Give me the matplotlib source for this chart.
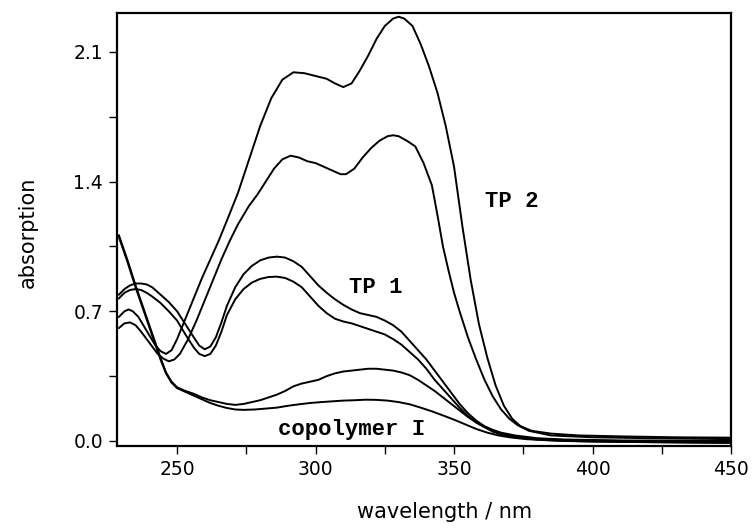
import matplotlib
matplotlib.use("Agg")
import matplotlib.pyplot as plt
from matplotlib.ticker import MultipleLocator

# ---- data (wavelength nm, absorption) ----
tp2a_wl = [229, 231, 232.5, 234, 236, 238, 240, 242, 244, 246, 248, 250, 253, 256, 259, 262, 265, 268,
           272, 276, 280, 284, 288, 292, 296, 300, 304, 307, 310, 313, 316, 319, 322, 325, 328, 330,
           332, 335, 338, 341, 344, 347, 350, 353, 356, 359, 362, 365, 368, 371, 374, 378, 385, 395,
           410, 430, 450]
tp2a_ab = [0.67, 0.70, 0.71, 0.70, 0.67, 0.62, 0.57, 0.52, 0.485, 0.47, 0.49, 0.55, 0.66, 0.77, 0.88,
           0.98, 1.08, 1.19, 1.34, 1.52, 1.70, 1.85, 1.95, 1.99, 1.985, 1.97, 1.955, 1.93, 1.91, 1.93,
           2.00, 2.08, 2.17, 2.24, 2.28, 2.29, 2.28, 2.24, 2.14, 2.02, 1.88, 1.70, 1.48, 1.16, 0.87,
           0.63, 0.45, 0.30, 0.19, 0.12, 0.08, 0.055, 0.04, 0.03, 0.025, 0.02, 0.018]

tp2b_wl = [229, 231, 233, 235, 237, 239, 241, 243, 245, 247, 249, 251, 254, 257, 260, 263, 266, 269,
           272, 276, 279, 282, 285, 288, 291, 294, 297, 300, 303, 306, 309, 311, 314, 317, 320, 323,
           326, 328, 330, 333, 336, 339, 342, 344, 346, 348, 350, 352, 355, 358, 361, 364, 367, 370,
           373, 377, 385, 400, 420, 450]
tp2b_ab = [0.61, 0.635, 0.64, 0.625, 0.59, 0.55, 0.51, 0.47, 0.445, 0.43, 0.44, 0.47, 0.55, 0.65,
           0.76, 0.87, 0.98, 1.08, 1.17, 1.27, 1.33, 1.40, 1.47, 1.52, 1.54, 1.53, 1.51, 1.50, 1.48,
           1.46, 1.44, 1.44, 1.47, 1.53, 1.58, 1.62, 1.645, 1.65, 1.645, 1.62, 1.59, 1.50, 1.38, 1.22,
           1.05, 0.92, 0.80, 0.70, 0.56, 0.44, 0.33, 0.24, 0.17, 0.12, 0.085, 0.055, 0.03, 0.02, 0.015,
           0.01]

tp1a_wl = [229, 231, 233, 235, 237, 239, 241, 244, 247, 250, 253, 256, 258, 260, 262, 264, 266, 268,
           271, 274, 277, 280, 283, 286, 289, 292, 295, 298, 301, 304, 307, 310, 313, 316, 319, 322,
           325, 328, 331, 334, 337, 340, 343, 346, 349, 352, 355, 358, 361, 364, 367, 372, 380, 390,
           410, 450]
tp1a_ab = [0.79, 0.82, 0.84, 0.85, 0.85, 0.845, 0.83, 0.79, 0.75, 0.70, 0.63, 0.56, 0.515, 0.495, 0.51,
           0.56, 0.64, 0.73, 0.83, 0.90, 0.945, 0.975, 0.99, 0.995, 0.99, 0.97, 0.94, 0.89, 0.84, 0.80,
           0.765, 0.735, 0.71, 0.69, 0.68, 0.67, 0.65, 0.625, 0.59, 0.54, 0.49, 0.44, 0.38, 0.32, 0.26,
           0.20, 0.15, 0.11, 0.08, 0.06, 0.045, 0.03, 0.015, 0.008, 0.003, 0.0]

tp1b_wl = [229, 231, 233, 235, 237, 239, 241, 244, 247, 250, 253, 256, 258, 260, 262, 264, 266, 268,
           271, 274, 277, 280, 283, 286, 289, 292, 295, 298, 301, 304, 307, 310, 313, 316, 319, 322,
           325, 328, 331, 334, 337, 340, 343, 346, 349, 352, 355, 358, 361, 364, 367, 372, 380, 390,
           410, 450]
tp1b_ab = [0.77, 0.80, 0.815, 0.82, 0.815, 0.80, 0.78, 0.745, 0.70, 0.65, 0.575, 0.505, 0.47, 0.458,
           0.47, 0.515, 0.59, 0.68, 0.765, 0.82, 0.855, 0.875, 0.885, 0.887, 0.88, 0.86, 0.83, 0.78,
           0.73, 0.69, 0.66, 0.645, 0.635, 0.62, 0.605, 0.59, 0.575, 0.55, 0.52, 0.48, 0.44, 0.39,
           0.33, 0.28, 0.23, 0.18, 0.135, 0.10, 0.075, 0.055, 0.04, 0.025, 0.012, 0.005, 0.0, -0.005]

copa_wl = [229, 232, 235, 238, 241, 244, 246, 248, 250, 253, 256, 259, 262, 265, 268, 271, 274, 277,
           280, 283, 286, 289, 292, 295, 298, 301, 304, 307, 310, 313, 316, 319, 322, 325, 328, 331,
           334, 337, 340, 343, 346, 349, 352, 355, 358, 361, 364, 367, 372, 380, 390, 410, 450]
copa_ab = [1.11, 0.98, 0.84, 0.71, 0.58, 0.45, 0.37, 0.32, 0.29, 0.27, 0.255, 0.235, 0.22, 0.21, 0.20,
           0.195, 0.20, 0.21, 0.22, 0.235, 0.25, 0.27, 0.295, 0.31, 0.32, 0.33, 0.35, 0.365, 0.375,
           0.38, 0.385, 0.39, 0.39, 0.385, 0.38, 0.37, 0.355, 0.33, 0.30, 0.27, 0.235, 0.20, 0.165,
           0.13, 0.10, 0.075, 0.05, 0.035, 0.02, 0.008, 0.0, -0.005, -0.01]

copb_wl = [229, 232, 235, 238, 241, 244, 246, 248, 250, 253, 256, 259, 262, 265, 268, 271, 274, 278,
           282, 286, 290, 294, 298, 302, 306, 310, 314, 318, 322, 326, 330, 334, 338, 342, 346, 350,
           354, 358, 362, 366, 370, 376, 385, 400, 450]
copb_ab = [1.10, 0.97, 0.83, 0.70, 0.57, 0.44, 0.365, 0.315, 0.285, 0.265, 0.245, 0.225, 0.205, 0.19,
           0.178, 0.17, 0.168, 0.17, 0.175, 0.18, 0.19, 0.198, 0.205, 0.21, 0.214, 0.218, 0.22, 0.223,
           0.222, 0.218, 0.21, 0.198, 0.18, 0.16, 0.138, 0.115, 0.09, 0.065, 0.045, 0.03, 0.02, 0.01,
           0.003, -0.003, -0.01]

series = [(tp2a_wl, tp2a_ab), (tp2b_wl, tp2b_ab), (tp1a_wl, tp1a_ab), (tp1b_wl, tp1b_ab),
          (copa_wl, copa_ab), (copb_wl, copb_ab)]

labels = ["TP 2", "TP 1", "copolymer I"]
label_pos = [(361, 1.29), (312, 0.83), (286.5, 0.063)]

x_ticks = [250, 300, 350, 400, 450]
y_ticks = [0.0, 0.7, 1.4, 2.1]

# ---- figure ----
fig = plt.figure(figsize=(7.54, 5.29), dpi=100)
ax = fig.add_axes([117 / 754, 1 - 446 / 529, (731 - 117) / 754, (446 - 13) / 529])

for wl, ab in series:
    ax.plot(wl, ab, color="black", lw=1.4, solid_joinstyle="round")

for txt, (x, y) in zip(labels, label_pos):
    ax.text(x, y, txt, family="Liberation Mono", fontweight="bold", fontsize=16,
            ha="left", va="center")

ax.set_xlim(228.3, 450)
ax.set_ylim(-0.027, 2.31)
ax.set_xticks(x_ticks)
ax.set_yticks(y_ticks)
ax.set_yticklabels([f"{v:.1f}" for v in y_ticks])
ax.xaxis.set_minor_locator(MultipleLocator(25))
ax.yaxis.set_minor_locator(MultipleLocator(0.35))
ax.tick_params(which="major", direction="out", length=6, width=1, labelsize=13.5, pad=4)
ax.tick_params(which="minor", direction="out", length=6, width=1)
for s in ax.spines.values():
    s.set_linewidth(1.6)

fig.text(445 / 754, 1 - 512 / 529, "wavelength / nm", fontsize=15, ha="center", va="center")
fig.text(28 / 754, 1 - 232 / 529, "absorption", fontsize=15, ha="center", va="center",
         rotation=90)

fig.savefig("out.png", dpi=100)
